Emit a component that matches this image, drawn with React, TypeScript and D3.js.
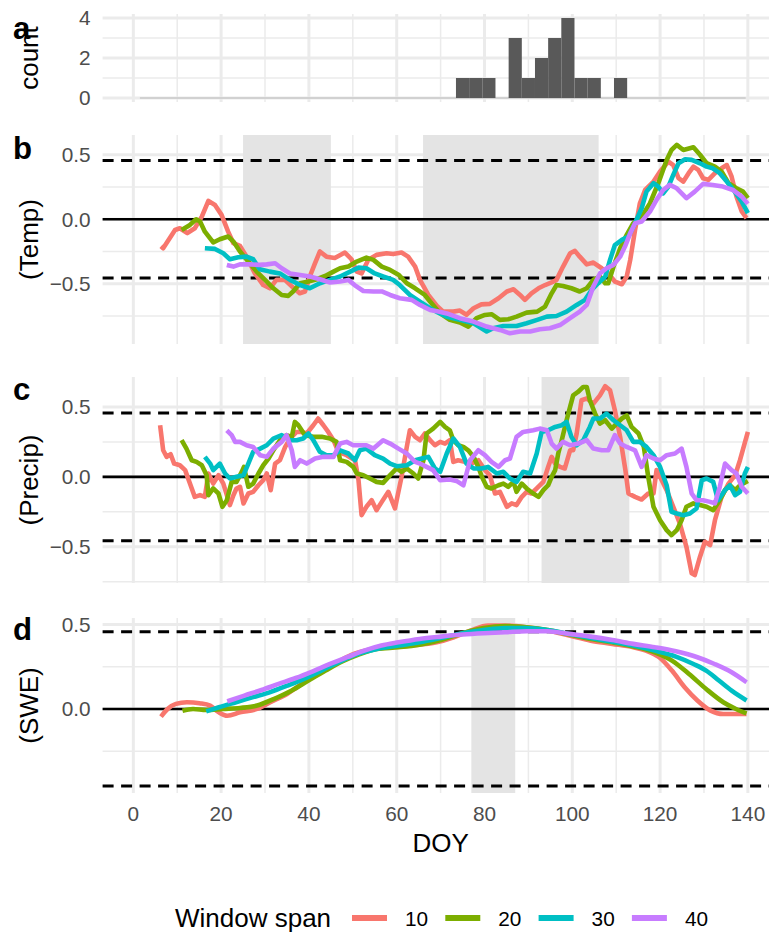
import React, { useEffect, useRef } from "react";
import * as d3 from "d3";

type Pt = [number, number];

const spans = ["10", "20", "30", "40"];
const colors = ["#F8766D", "#7CAE00", "#00BFC4", "#C77CFF"];

// histogram of event DOY (binwidth 3)
const binWidth = 3;
const histCenters = [75, 78, 81, 87, 90, 93, 96, 99, 102, 105, 111];
const histCounts = [1, 1, 1, 3, 1, 2, 3, 4, 1, 1, 1];
const histRange: Pt = [1.5, 139.5];

const critR = 0.456;
const xTicks = [0, 20, 40, 60, 80, 100, 120, 140];
const xMinor = [10, 30, 50, 70, 90, 110, 130];

const tempShade: Pt[] = [[25, 45], [66, 106]];
const precipShade: Pt[] = [[93, 113]];
const sweShade: Pt[] = [[77, 87]];

const temp10: Pt[] = [[6.3,-0.21],[6.8,-0.225],[9.5,-0.083],[10.6,-0.07],[12.3,-0.108],[14,-0.07],[15.6,0.02],[17.1,0.142],[18.6,0.11],[20.1,0.034],[21.6,-0.096],[22.8,-0.186],[24.3,-0.207],[25.8,-0.29],[27.7,-0.42],[29.6,-0.51],[31.1,-0.535],[32.6,-0.47],[34.5,-0.47],[36.1,-0.52],[37.9,-0.574],[39.1,-0.56],[40.2,-0.444],[41.4,-0.34],[42.5,-0.25],[44,-0.29],[45.9,-0.3],[48.2,-0.258],[49.7,-0.31],[50.9,-0.406],[52,-0.42],[53.5,-0.315],[55.4,-0.276],[57.7,-0.264],[59.2,-0.27],[61.1,-0.258],[62.6,-0.29],[64.2,-0.367],[65.3,-0.47],[67.2,-0.587],[69.3,-0.677],[70.6,-0.716],[72.9,-0.716],[74.4,-0.708],[75.9,-0.74],[77.5,-0.69],[79.3,-0.66],[81.2,-0.656],[83.2,-0.612],[85.1,-0.56],[86.6,-0.543],[88.1,-0.587],[89.2,-0.625],[90.7,-0.574],[92.3,-0.535],[93.8,-0.51],[95.3,-0.49],[96.4,-0.47],[97.9,-0.367],[99.5,-0.264],[100.6,-0.245],[101.7,-0.29],[103.3,-0.35],[104.8,-0.336],[106.7,-0.38],[108.2,-0.42],[109.7,-0.483],[111.3,-0.504],[112.4,-0.444],[113.2,-0.315],[114.3,-0.083],[115.4,0.124],[116.6,0.227],[118.5,0.292],[120,0.37],[121.9,0.447],[123,0.42],[124.2,0.318],[125.3,0.292],[126.5,0.357],[127.6,0.408],[128.7,0.382],[129.8,0.318],[131,0.305],[132.5,0.357],[134,0.395],[135.2,0.42],[136.3,0.33],[137.4,0.176],[138.6,0.06],[139.7,0.008]];
const temp20: Pt[] = [[11,-0.083],[12.9,-0.044],[14.3,0],[15.2,-0.018],[16.3,-0.096],[18.2,-0.18],[19.7,-0.155],[21.6,-0.134],[22.8,-0.173],[24.3,-0.25],[26.2,-0.328],[28.1,-0.406],[30,-0.47],[31.9,-0.535],[33.8,-0.587],[35.3,-0.594],[36.4,-0.56],[38,-0.496],[39.9,-0.483],[41.8,-0.465],[43.7,-0.44],[45.6,-0.406],[47.1,-0.38],[49,-0.367],[50.9,-0.328],[53.1,-0.297],[54.7,-0.315],[56.6,-0.367],[58.5,-0.393],[60.4,-0.43],[62.3,-0.496],[64.2,-0.535],[66.4,-0.587],[67.6,-0.638],[69.9,-0.73],[72.1,-0.78],[74.4,-0.8],[76.3,-0.832],[78.2,-0.767],[80.1,-0.742],[81.6,-0.736],[83.5,-0.78],[85.4,-0.775],[87.3,-0.755],[89.6,-0.724],[92,-0.716],[93.8,-0.677],[95.3,-0.574],[96.4,-0.51],[97.9,-0.517],[99.8,-0.535],[101.7,-0.56],[103.3,-0.535],[104.8,-0.47],[106.3,-0.444],[107.5,-0.496],[108.2,-0.496],[109.4,-0.367],[110.9,-0.225],[112.4,-0.121],[113.9,-0.031],[115.8,0.02],[117.7,0.124],[119.6,0.279],[121.5,0.46],[122.6,0.537],[123.8,0.576],[125.3,0.537],[127.6,0.558],[129.1,0.5],[130.6,0.434],[132.5,0.408],[134,0.37],[135.6,0.279],[137.4,0.24],[138.9,0.214],[140,0.163]];
const temp30: Pt[] = [[16.3,-0.225],[18.6,-0.23],[20.5,-0.264],[22,-0.31],[23.9,-0.295],[25.8,-0.29],[27.3,-0.31],[28.8,-0.388],[31.1,-0.406],[33.4,-0.42],[35.7,-0.47],[38,-0.51],[40.2,-0.535],[42.5,-0.496],[44.8,-0.47],[47.1,-0.444],[49.4,-0.406],[51.3,-0.375],[53.1,-0.38],[55,-0.42],[56.9,-0.444],[59.2,-0.47],[60.7,-0.51],[63,-0.587],[65.3,-0.638],[67.6,-0.69],[69.5,-0.724],[71.4,-0.755],[74.4,-0.78],[77.5,-0.806],[80.5,-0.87],[82,-0.845],[84.3,-0.827],[87.3,-0.827],[89.6,-0.806],[92,-0.78],[94.2,-0.755],[96.4,-0.75],[98.7,-0.716],[101,-0.664],[102.9,-0.625],[104.4,-0.548],[105.9,-0.496],[107.5,-0.444],[108.6,-0.315],[109.7,-0.2],[111.3,-0.16],[112.8,-0.134],[114.3,-0.031],[115.8,0.085],[116.9,0.214],[118.5,0.279],[119.6,0.253],[120.7,0.2],[121.9,0.253],[123,0.344],[124.2,0.434],[125.7,0.465],[127.2,0.46],[129.1,0.434],[130.6,0.408],[132,0.395],[133.6,0.357],[135.2,0.292],[137,0.214],[138.6,0.137],[140,0.047]];
const temp40: Pt[] = [[21.3,-0.354],[22.8,-0.367],[24.3,-0.35],[26.6,-0.35],[28.8,-0.354],[30.4,-0.35],[32.3,-0.341],[33.8,-0.38],[35.7,-0.42],[38,-0.432],[40.2,-0.444],[42.5,-0.465],[44.8,-0.49],[47.1,-0.483],[49,-0.47],[50.4,-0.51],[52.4,-0.556],[54.7,-0.56],[56.6,-0.56],[58.5,-0.587],[60.7,-0.612],[63.4,-0.625],[65.3,-0.664],[67.6,-0.703],[69.5,-0.716],[71.4,-0.73],[74.4,-0.767],[77.5,-0.793],[80.5,-0.832],[83.5,-0.858],[85.8,-0.884],[88.1,-0.87],[90.4,-0.87],[92.6,-0.853],[94.9,-0.845],[97.2,-0.82],[99.5,-0.767],[101.7,-0.716],[103.3,-0.664],[104.8,-0.522],[106.3,-0.42],[107.8,-0.38],[109.4,-0.354],[110.9,-0.29],[112,-0.212],[113.2,-0.109],[114.3,-0.031],[115.8,-0.018],[117.7,0.06],[119.2,0.15],[120.7,0.227],[122.2,0.266],[123.8,0.24],[126,0.163],[127.9,0.214],[129.8,0.274],[132,0.266],[134.3,0.253],[136.6,0.227],[138.6,0.176],[140,0.119]];

const precip10: Pt[] = [[6.1,0.369],[6.8,0.19],[7.6,0.143],[8.5,0.162],[9.3,0.095],[10.6,0.083],[11.8,0.048],[12.9,-0.048],[14,-0.143],[15.2,-0.131],[16.3,-0.143],[17.1,0.024],[18.2,-0.048],[19.4,0.012],[20.5,-0.048],[22,-0.202],[22.8,-0.131],[23.5,-0.083],[24.3,-0.071],[25.1,-0.19],[26.2,-0.119],[27.3,-0.107],[28.5,-0.06],[29.6,-0.024],[30.4,0.024],[31.3,-0.095],[32.3,0.095],[33.4,0.119],[34.6,0.214],[35.7,0.274],[37.2,0.321],[38.3,0.321],[39.5,0.31],[41,0.369],[42.1,0.417],[43.3,0.369],[44.4,0.321],[45.6,0.262],[46.7,0.179],[48.6,0.155],[50.5,0.119],[51.3,-0.024],[52,-0.274],[53.1,-0.214],[54.3,-0.167],[55.4,-0.238],[56.6,-0.179],[58.1,-0.107],[59.6,-0.226],[61.1,0],[62.3,0.214],[63,0.333],[64.2,0.286],[65.3,0.262],[66.4,0.31],[67.6,0.262],[68.7,0.226],[69.9,0.25],[71,0.238],[72.1,0.262],[72.9,0.107],[74,0.119],[75.5,0.107],[77.1,0.095],[78.6,0.119],[80.1,0.048],[81.2,0.012],[82.4,-0.119],[83.5,-0.107],[85.1,-0.214],[86.2,-0.19],[87.3,-0.202],[88.5,-0.143],[89.6,-0.107],[90.7,-0.119],[91.9,-0.083],[93.4,-0.036],[94.5,0.071],[95.3,0.143],[96.1,0.095],[97.2,0.071],[98.3,0.06],[99.5,0.19],[100.2,0.19],[101,0.31],[102.1,0.548],[103.3,0.56],[104.8,0.524],[106.3,0.583],[107.5,0.648],[108.6,0.619],[109.7,0.476],[110.9,0.286],[112.1,0.048],[112.8,-0.119],[114.3,-0.143],[115.8,-0.162],[117.3,-0.119],[118.5,-0.119],[119.2,0.048],[120,0],[121.5,-0.095],[123,-0.214],[124.5,-0.333],[126,-0.5],[127.2,-0.69],[127.9,-0.702],[129.1,-0.571],[130.2,-0.464],[131.4,-0.488],[132.5,-0.31],[134,-0.143],[135.6,-0.048],[137.1,0.012],[138.2,0.119],[140,0.321]];
const precip20: Pt[] = [[11,0.262],[12.1,0.202],[13.3,0.119],[14.4,0.107],[15.6,0.083],[16.7,0.012],[17.1,-0.131],[18.2,-0.083],[19.4,-0.119],[20.3,-0.214],[21.3,-0.167],[22.4,-0.036],[23.5,-0.036],[24.7,0.036],[25.2,0.071],[26.2,-0.071],[27.3,-0.048],[28.5,0.024],[29.6,0.083],[30.8,0.131],[31.9,0.19],[33.4,0.262],[34.9,0.298],[36.1,0.286],[36.8,0.393],[37.6,0.369],[39.1,0.298],[41,0.286],[42.9,0.286],[44.8,0.274],[46.3,0.25],[47.1,0.119],[48.6,0.107],[50.1,0.071],[50.9,0.024],[52.4,0.012],[53.9,-0.012],[55.4,-0.036],[56.9,-0.043],[58.5,0.012],[60,0.06],[61.1,0.036],[62.3,0.06],[63.8,0.024],[64.9,-0.012],[66.1,0.119],[66.8,0.31],[68.3,0.345],[69.9,0.393],[71,0.357],[72.1,0.333],[72.9,0.262],[74,0.226],[75.2,0.214],[76.3,0.19],[77.5,0.143],[78.6,0.071],[79.4,0],[80.5,-0.071],[81.6,-0.083],[83.2,-0.06],[84.3,-0.048],[85.4,-0.071],[86.6,-0.036],[87.3,-0.107],[88.5,-0.048],[89.6,-0.083],[91.1,-0.119],[92.3,-0.143],[93.4,-0.095],[94.5,-0.06],[95.3,0],[96.1,0.048],[96.8,0.167],[97.6,0.262],[98.7,0.405],[99.5,0.5],[100.2,0.583],[101.3,0.607],[102.5,0.643],[103.3,0.643],[104,0.548],[105.2,0.452],[106.3,0.381],[107.5,0.405],[109,0.345],[110.1,0.381],[111.3,0.417],[112.4,0.44],[113.5,0.357],[115.1,0.31],[116.3,0.214],[117.3,0],[118.5,-0.214],[120,-0.31],[121.5,-0.381],[122.6,-0.417],[123.8,-0.381],[124.9,-0.31],[126,-0.214],[127.6,-0.19],[129.1,-0.202],[130.6,-0.214],[132.1,-0.238],[133.6,-0.167],[134.8,-0.095],[135.9,-0.06],[137.1,-0.095],[138.2,-0.06],[140,-0.03]];
const precip30: Pt[] = [[16.3,0.143],[17.5,0.095],[18.2,0.048],[19.7,0.095],[20.9,0.024],[22,-0.012],[23.5,0],[25.1,0.012],[26.2,0.095],[27.3,0.179],[28.9,0.202],[30.4,0.226],[31.9,0.274],[33.8,0.298],[35.7,0.262],[37.2,0.262],[38.7,0.274],[39.9,0.31],[41,0.262],[42.5,0.179],[44,0.155],[45.6,0.155],[47.1,0.19],[49,0.167],[50.5,0.119],[51.6,0.19],[53.1,0.202],[55,0.155],[56.9,0.131],[58.5,0.095],[60,0.076],[62.3,0.083],[64.2,0.119],[65.7,0.131],[67.2,0.143],[68.7,0.06],[69.9,0.036],[71.4,0.167],[72.9,0.274],[74.4,0.214],[75.9,0.095],[77.5,0.06],[79.3,0.06],[80.8,0.071],[82.8,0.024],[84.3,0.036],[85.8,-0.012],[87.3,-0.036],[88.8,0.036],[90.4,0.024],[91.9,0.167],[93,0.321],[94.5,0.333],[96.1,0.357],[97.6,0.369],[98.7,0.393],[99.8,0.286],[101,0.226],[102.5,0.262],[104,0.357],[104.8,0.417],[106.3,0.417],[107.8,0.452],[109.4,0.405],[110.9,0.369],[112.4,0.333],[113.9,0.25],[115.4,0.25],[116.9,0.214],[118.5,0.155],[120,0.071],[121.5,-0.06],[122.6,-0.25],[123.8,-0.262],[125.3,-0.274],[126.8,-0.262],[128.3,-0.226],[129.5,-0.024],[130.6,-0.012],[132.1,-0.036],[133.2,-0.167],[134.8,-0.095],[135.9,-0.06],[137.1,-0.131],[138.2,-0.107],[139.3,0.024],[140,0.071]];
const precip40: Pt[] = [[21.3,0.333],[22.4,0.298],[23.2,0.25],[24.3,0.25],[25.8,0.226],[27.3,0.214],[28.9,0.155],[30.4,0.143],[31.9,0.202],[33.8,0.25],[34.9,0.298],[36.1,0.19],[36.8,0.071],[38,0.119],[39.5,0.095],[41.4,0.131],[43.3,0.143],[45.6,0.143],[47.1,0.238],[48.6,0.25],[50.1,0.226],[51.6,0.226],[53.1,0.226],[54.7,0.202],[56.9,0.262],[58.5,0.238],[60.4,0.202],[62.3,0.167],[64.2,0.107],[65.3,0.095],[66.8,0.071],[68.3,0.048],[69.9,-0.024],[72.1,-0.019],[73.6,-0.029],[75.2,-0.06],[76.7,0.119],[78.6,0.19],[80.1,0.155],[81.6,0.107],[83.2,0.071],[84.7,0.119],[85.8,0.131],[87.3,0.286],[88.8,0.321],[91.1,0.333],[92.6,0.345],[94.2,0.333],[95.3,0.238],[96.4,0.202],[97.9,0.25],[99.5,0.226],[101.4,0.238],[103.3,0.262],[104.8,0.202],[106.7,0.19],[108.2,0.19],[109.7,0.298],[110.9,0.238],[112.4,0.214],[114.3,0.19],[115.8,0.071],[116.9,0.155],[118.5,0.131],[120,0.119],[121.5,0.155],[123.4,0.167],[124.9,0.202],[126,0.071],[127.2,-0.119],[128.3,-0.167],[129.8,-0.167],[131.4,-0.179],[132.5,-0.19],[133.6,-0.071],[134.8,0.095],[136.3,0.048],[137.4,0.024],[138.6,-0.071],[140,-0.119]];

const swe10: Pt[] = [[6.3,-0.045],[7.8,0],[9.7,0.03],[12.2,0.04],[15.1,0.034],[17.5,0.02],[19.5,-0.02],[21.4,-0.04],[24.3,-0.02],[28.2,0],[31.2,0.04],[35.1,0.09],[38.9,0.158],[42.8,0.217],[45.8,0.266],[49.7,0.32],[53.6,0.35],[58.4,0.365],[63.3,0.375],[69.1,0.394],[73,0.424],[76.9,0.464],[80.8,0.493],[84.7,0.493],[89.6,0.483],[94.4,0.464],[99.3,0.434],[104.2,0.404],[109.1,0.385],[113.9,0.365],[116.8,0.345],[119.8,0.306],[122.7,0.227],[125.6,0.128],[128.5,0.05],[131.5,-0.01],[134.4,-0.03],[137.3,-0.03],[139.7,-0.03]];
const swe20: Pt[] = [[11.2,-0.01],[13.6,0],[16.6,-0.006],[20.4,0],[24.3,0.006],[28.2,0.02],[32.1,0.06],[36,0.108],[39.9,0.168],[43.8,0.227],[47.7,0.282],[51.6,0.325],[55.5,0.355],[60.4,0.365],[65.2,0.38],[70.1,0.408],[75,0.448],[79.8,0.479],[84.7,0.491],[89.6,0.483],[94.4,0.467],[99.3,0.44],[104.2,0.414],[109.1,0.394],[113.9,0.37],[118.8,0.335],[122.7,0.286],[126.6,0.207],[130.5,0.118],[134.4,0.04],[137.3,0],[139.7,-0.026]];
const swe30: Pt[] = [[16.6,-0.014],[19.5,0.01],[23.4,0.04],[27.3,0.07],[31.2,0.1],[35.1,0.138],[38.9,0.178],[42.8,0.227],[46.7,0.276],[50.6,0.32],[55.5,0.355],[60.4,0.375],[65.2,0.394],[70.1,0.42],[75,0.448],[79.8,0.467],[84.7,0.479],[89.6,0.479],[94.4,0.467],[99.3,0.444],[104.2,0.42],[109.1,0.398],[113.9,0.375],[118.8,0.345],[123.6,0.31],[127.6,0.266],[130.5,0.227],[133.4,0.168],[136.3,0.108],[139.7,0.05]];
const swe40: Pt[] = [[21.4,0.045],[25.3,0.079],[29.2,0.112],[33.1,0.148],[37,0.183],[40.9,0.223],[44.8,0.266],[48.7,0.306],[52.6,0.345],[56.5,0.375],[60.4,0.394],[65.2,0.414],[70.1,0.428],[75,0.44],[79.8,0.448],[84.7,0.454],[89.6,0.46],[94.4,0.46],[99.3,0.444],[104.2,0.428],[109.1,0.408],[113.9,0.385],[118.8,0.365],[123.6,0.341],[128.5,0.306],[132.4,0.266],[136.3,0.217],[139.7,0.158]];

const FONT = "'Liberation Sans', Arial, Helvetica, sans-serif";
const GRID = "#EBEBEB";

export default function App() {
  const ref = useRef<SVGSVGElement>(null);

  useEffect(() => {
    const svg = d3.select(ref.current);
    svg.selectAll("*").remove();
    svg.style("font-family", FONT);

    const x = d3.scaleLinear().domain([-7, 147]).range([102.6, 778.6]);
    const left = x.range()[0];
    const right = 769;
    const fmt = d3.format(".1f");

    const panels = [
      { tag: "a", title: "count", top: 14, bottom: 102, domain: [-0.2, 4.2], major: [0, 2, 4], minor: [1, 3], tagY: 39, fmt: d3.format("d"), series: null as Pt[][] | null, shade: [] as Pt[], smooth: false },
      { tag: "b", title: "(Temp)", top: 135, bottom: 344, domain: [-0.967, 0.653], major: [-0.5, 0, 0.5], minor: [-0.75, -0.25, 0.25], tagY: 159, fmt, series: [temp10, temp20, temp30, temp40], shade: tempShade, smooth: false },
      { tag: "c", title: "(Precip)", top: 377, bottom: 583, domain: [-0.759, 0.714], major: [-0.5, 0, 0.5], minor: [-0.75, -0.25, 0.25], tagY: 400, fmt, series: [precip10, precip20, precip30, precip40], shade: precipShade, smooth: false },
      { tag: "d", title: "(SWE)", top: 618, bottom: 793, domain: [-0.497, 0.538], major: [0, 0.5], minor: [-0.25, 0.25], tagY: 640, fmt, series: [swe10, swe20, swe30, swe40], shade: sweShade, smooth: true },
    ];

    panels.forEach((p) => {
      const y = d3.scaleLinear().domain(p.domain).range([p.bottom, p.top]);
      const g = svg.append("g");

      // minor grid
      g.selectAll(".vmin").data(xMinor).enter().append("line")
        .attr("x1", (d) => x(d)).attr("x2", (d) => x(d))
        .attr("y1", p.top).attr("y2", p.bottom)
        .attr("stroke", GRID).attr("stroke-width", 1.5);
      g.selectAll(".hmin").data(p.minor).enter().append("line")
        .attr("x1", left).attr("x2", right)
        .attr("y1", (d) => y(d)).attr("y2", (d) => y(d))
        .attr("stroke", GRID).attr("stroke-width", 1.5);
      // major grid
      g.selectAll(".vmaj").data(xTicks).enter().append("line")
        .attr("x1", (d) => x(d)).attr("x2", (d) => x(d))
        .attr("y1", p.top).attr("y2", p.bottom)
        .attr("stroke", GRID).attr("stroke-width", 3);
      g.selectAll(".hmaj").data(p.major).enter().append("line")
        .attr("x1", left).attr("x2", right)
        .attr("y1", (d) => y(d)).attr("y2", (d) => y(d))
        .attr("stroke", GRID).attr("stroke-width", 3);

      // y tick labels
      g.selectAll(".ylab").data(p.major).enter().append("text")
        .attr("x", 90.7).attr("y", (d) => y(d)).attr("dy", "0.36em")
        .attr("text-anchor", "end").attr("font-size", 20.8).attr("fill", "#4D4D4D")
        .text((d) => p.fmt(d));

      // axis title
      g.append("text")
        .attr("transform", `translate(28.5,${(p.top + p.bottom) / 2}) rotate(-90)`)
        .attr("dy", "0.36em").attr("text-anchor", "middle")
        .attr("font-size", 26).attr("fill", "#000").text(p.title);

      if (!p.series) {
        // histogram
        g.append("line")
          .attr("x1", x(histRange[0])).attr("x2", x(histRange[1]))
          .attr("y1", y(0)).attr("y2", y(0))
          .attr("stroke", "#595959").attr("stroke-opacity", 0.35).attr("stroke-width", 1.2);
        g.selectAll(".bar").data(histCenters).enter().append("rect")
          .attr("x", (d) => x(d - binWidth / 2))
          .attr("width", (d) => x(d + binWidth / 2) - x(d - binWidth / 2))
          .attr("y", (_d, i) => y(histCounts[i]))
          .attr("height", (_d, i) => y(0) - y(histCounts[i]))
          .attr("fill", "#595959");
      } else {
        g.selectAll(".shade").data(p.shade).enter().append("rect")
          .attr("x", (d) => x(d[0])).attr("width", (d) => x(d[1]) - x(d[0]))
          .attr("y", p.top).attr("height", p.bottom - p.top)
          .attr("fill", "#E4E4E4");

        [critR, -critR].forEach((v) => {
          g.append("line")
            .attr("x1", left).attr("x2", right)
            .attr("y1", y(v)).attr("y2", y(v))
            .attr("stroke", "#000").attr("stroke-width", 3)
            .attr("stroke-dasharray", "11 7.5");
        });
        g.append("line")
          .attr("x1", left).attr("x2", right)
          .attr("y1", y(0)).attr("y2", y(0))
          .attr("stroke", "#000").attr("stroke-width", 2.6);

        const line = d3.line<Pt>()
          .x((d) => x(d[0])).y((d) => y(d[1]))
          .curve(p.smooth ? d3.curveMonotoneX : d3.curveLinear);
        p.series.forEach((s, i) => {
          g.append("path").attr("d", line(s) as string)
            .attr("fill", "none").attr("stroke", colors[i])
            .attr("stroke-width", 4.6).attr("stroke-linejoin", "round")
            .attr("stroke-linecap", "butt");
        });
      }

      // panel tag
      g.append("text")
        .attr("x", 13).attr("y", p.tagY)
        .attr("font-size", 31.2).attr("font-weight", "bold").attr("fill", "#000")
        .text(p.tag);
    });

    // x axis labels (bottom panel only)
    svg.selectAll(".xlab").data(xTicks).enter().append("text")
      .attr("x", (d) => x(d)).attr("y", 813.5).attr("dy", "0.36em")
      .attr("text-anchor", "middle").attr("font-size", 20.8).attr("fill", "#4D4D4D")
      .text((d) => String(d));
    svg.append("text")
      .attr("x", (left + 778.6) / 2).attr("y", 851.5)
      .attr("text-anchor", "middle").attr("font-size", 26).attr("fill", "#000")
      .text("DOY");

    // legend
    const lg = svg.append("g");
    lg.append("text").attr("x", 175).attr("y", 927)
      .attr("font-size", 26).attr("fill", "#000").text("Window span");
    spans.forEach((s, i) => {
      const kx = 352 + i * 93.3;
      lg.append("line")
        .attr("x1", kx).attr("x2", kx + 35).attr("y1", 918).attr("y2", 918)
        .attr("stroke", colors[i]).attr("stroke-width", 6);
      lg.append("text").attr("x", kx + 53).attr("y", 925.5)
        .attr("font-size", 20.8).attr("fill", "#000").text(s);
    });
  }, []);

  return (
    <svg
      ref={ref}
      width={769}
      height={932}
      style={{ position: "absolute", left: 0, top: 0, background: "#fff", display: "block" }}
    />
  );
}
